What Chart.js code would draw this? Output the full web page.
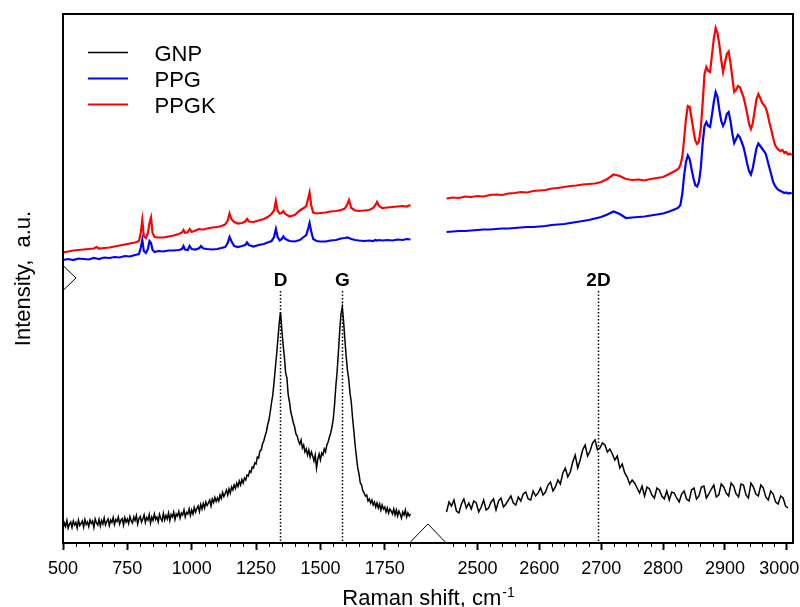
<!DOCTYPE html>
<html><head><meta charset="utf-8">
<script src="https://cdn.jsdelivr.net/npm/chart.js@4.4.1/dist/chart.umd.min.js"></script>
<style>html,body{margin:0;padding:0;background:#fff}#wrap{width:800px;height:607px;position:relative}</style>
</head><body><div id="wrap"><canvas id="c" width="800" height="607"></canvas></div>
<script>
// ---------- DATA ----------
const seriesNames = ['GNP', 'PPG', 'PPGK'];

const gnpLeftX = [500,505,510,515,520,525,530,535,540,545,550,555,560,565,570,575,580,585,590,595,
600,605,610,615,620,625,630,635,640,645,650,655,660,665,670,675,680,685,690,695,
700,705,710,715,720,725,730,735,740,745,750,755,760,765,770,775,780,785,790,795,
800,805,810,815,820,825,830,835,840,845,850,855,860,865,870,875,880,885,890,895,
900,905,910,915,920,925,930,935,940,945,950,955,960,965,970,975,980,985,990,995,
1000,1005,1010,1015,1020,1025,1030,1035,1040,1045,1050,1055,1060,1065,1070,1075,1080,1085,1090,1095,
1100,1105,1110,1115,1120,1125,1130,1135,1140,1145,1150,1155,1160,1165,1170,1175,1180,1185,1190,1195,
1200,1205,1210,1215,1220,1225,1230,1235,1240,1245,1250,1255,1260,1265,1270,1275,1280,1285,1290,1295,
1300,1305,1310,1315,1320,1325,1330,1335,1340,1345,1350,1355,1360,1365,1370,1375,1380,1385,1390,1395,
1400,1405,1410,1415,1420,1425,1430,1435,1440,1445,1450,1455,1460,1465,1470,1475,1480,1485,1490,1495,
1500,1505,1510,1515,1520,1525,1530,1535,1540,1545,1550,1555,1560,1565,1570,1575,1580,1585,1590,1595,
1600,1605,1610,1615,1620,1625,1630,1635,1640,1645,1650,1655,1660,1665,1670,1675,1680,1685,1690,1695,
1700,1705,1710,1715,1720,1725,1730,1735,1740,1745,1750,1755,1760,1765,1770,1775,1780,1785,1790,1795,
1800,1805,1810,1815,1820,1825,1830,1835,1840,1845,1850];
const gnpLeftY = [28,40,33,45,30,38,42,31,44,36, 41,30,46,35,39,44,32,47,37,42,
33,46,39,44,31,48,40,36,47,34, 45,38,50,36,43,48,35,46,41,51,
37,47,43,52,38,46,49,36,51,42, 48,39,53,44,40,52,45,55,38,49,
53,42,48,56,41,51,46,57,40,52, 45,58,47,52,42,57,49,44,59,46,
55,48,60,45,57,52,62,47,58,54, 63,50,60,56,66,52,61,58,68,55,
66,58,71,62,69,74,63,77,68,79, 70,82,75,80,86,74,88,81,91,83,
90,84,96,89,101,93,99,106,96,108, 100,112,106,116,109,120,113,124,116,127,
120,130,126,136,134,144,141,152,150,160, 158,172,170,184,186,198,204,214,222,236,
246,262,280,296,322,350,378,408,440,462, 428,398,372,340,330,296,282,262,252,240,
232,218,214,204,198,206,190,196,182,188, 176,186,172,182,174,164,176,150,168,178,
166,180,176,188,182,196,202,212,220,232, 248,276,314,342,382,424,458,472,444,408,
374,346,328,300,282,250,224,196,172,150, 138,120,116,104,100,94,96,84,88,80,
86,76,82,72,80,70,78,66,76,68, 72,62,70,60,68,64,58,68,56,66,
54,64,58,50,62,56,66,52,60,54, 58];

const gnpRightX = [2450,2454,2458,2462,2466,2470,2474,2478,2482,2486,2490,2494,2498,2502,2506,2510,2514,2518,2522,2526,
2530,2534,2538,2542,2546,2550,2554,2558,2562,2566,2570,2574,2578,2582,2586,2590,2594,2598,2602,2606,
2610,2614,2618,2622,2626,2630,2634,2638,2642,2646,2650,2654,2658,2662,2666,2670,2674,2678,2682,2686,
2690,2694,2698,2702,2706,2710,2714,2718,2722,2726,2730,2734,2738,2742,2746,2750,2754,2758,2762,2766,
2770,2774,2778,2782,2786,2790,2794,2798,2802,2806,2810,2814,2818,2822,2826,2830,2834,2838,2842,2846,
2850,2854,2858,2862,2866,2870,2874,2878,2882,2886,2890,2894,2898,2902,2906,2910,2914,2918,2922,2926,
2930,2934,2938,2942,2946,2950,2954,2958,2962,2966,2970,2974,2978,2982,2986,2990,2994,2998,3002];
const gnpRightY = [62,82,74,86,64,60,78,88,70,80, 68,84,80,62,72,86,66,70,82,88,
66,84,90,72,78,86,94,80,76,92, 84,98,102,88,86,104,94,100,110,96,
102,116,122,104,112,126,118,140,150,132, 142,162,176,150,166,186,196,174,184,200,
206,186,190,200,196,182,188,178,166,174, 150,158,140,132,118,126,120,110,100,114,
94,112,108,96,90,110,106,94,88,104, 86,102,100,90,82,98,104,88,84,106,
110,88,94,112,114,90,98,108,116,92, 96,118,112,100,94,120,114,98,92,118,
116,96,90,120,112,98,94,116,110,92, 86,104,98,82,78,94,90,74,70];

const polyLeftX = [500,520,540,560,580,600,620,630,640,660,
680,700,720,740,760,780,795,802,808,814,
822,830,836,842,848,856,870,890,910,930,
950,962,968,974,985,992,1000,1015,1030,1036,
1045,1060,1080,1100,1115,1130,1140,1147,1154,1165,
1180,1195,1208,1215,1222,1240,1260,1280,1295,1310,
1320,1327,1334,1342,1350,1356,1364,1380,1400,1420,
1435,1445,1452,1458,1464,1472,1485,1500,1520,1540,
1560,1580,1595,1605,1611,1620,1635,1650,1670,1690,
1705,1714,1720,1728,1740,1760,1780,1800,1820,1835,1850];
const ppgLeftY = [566,568,566,569,568,567,570,569,568,571,
570,572,571,574,573,576,578,590,606,584,
580,588,604,600,586,582,584,583,585,585,
586,588,594,587,586,594,588,587,590,594,
589,588,587,588,590,592,600,612,604,594,
592,594,596,601,596,593,596,598,601,604,
612,628,612,605,608,613,608,604,603,606,
612,616,628,640,624,608,604,603,603,605,
606,609,610,611,610,608,606,605,604,605,
604,606,605,606,605,606,605,607,606,608,607];
const ppgkLeftY = [581,583,585,586,587,588,589,592,589,590,
591,593,595,597,599,601,604,620,646,614,
610,620,640,651,620,612,611,611,613,615,
618,621,626,620,622,628,622,625,628,627,
627,629,631,632,634,637,645,659,648,642,
639,640,643,648,643,642,645,648,652,658,
665,684,664,659,660,664,658,653,656,665,
670,674,688,701,676,661,659,660,661,663,
664,666,669,678,686,670,665,664,665,666,
670,676,682,674,670,671,672,673,674,673,676];

const polyRightX = [2450,2460,2470,2480,2490,2500,2510,2520,2530,2540,2550,2560,2570,2580,2590,2600,2610,2620,2630,2640,
2650,2660,2670,2680,2690,2700,2710,2720,2730,2740,2750,2760,2770,2780,2790,2800,2810,
2822,2825,2828,2831,2834,2837,2840,2843,2846,2849,2852,2855,2858,2861,2864,2867,2870,2873,2876,2879,
2882,2885,2888,2891,2894,2897,2900,2903,2906,2909,2912,2915,2918,2921,2924,2927,2930,2933,2936,2939,
2942,2945,2948,2951,2954,2957,2960,2963,2966,2969,2972,2975,2978,2981,2984,2987,2990,2993,2996,2999,
3002,3005,3008];
const ppgRightY = [622,623,624,624,625,626,627,627,628,629,629,630,631,632,632,633,634,636,637,638,
640,642,644,646,649,652,657,663,658,650,651,652,653,655,657,659,663,
669,671,676,698,735,762,775,768,748,730,716,713,722,750,800,834,842,834,832,856,
882,902,892,866,844,834,842,858,862,844,818,800,808,816,812,802,792,776,758,744,
737,750,770,790,799,794,789,784,778,764,750,736,722,714,709,706,704,702,700,701,
699,700,699];
const ppgkRightY = [689,691,690,693,692,694,693,696,697,696,699,700,702,701,704,705,706,709,710,712,
714,715,717,718,719,722,728,737,734,728,726,727,725,728,730,732,738,
746,749,756,772,808,848,874,872,850,826,805,798,803,830,880,938,952,944,942,976,
1008,1030,1020,996,966,942,960,978,983,960,930,902,906,914,912,902,892,876,858,838,
828,840,864,888,898,890,880,876,870,858,840,826,810,796,790,786,784,786,780,782,
777,779,776];

const majorTicks = [500,750,1000,1250,1500,1750,2500,2600,2700,2800,2900,3000];
const minorTicks = [550,600,650,700,800,850,900,950,1050,1100,1150,1200,1300,1350,1400,1450,1550,1600,1650,1700,1800,1850,
2460,2480,2520,2540,2560,2580,2620,2640,2660,2680,2720,2740,2760,2780,2820,2840,2860,2880,2920,2940,2960,2980];

const peakPositions = [1343, 1583, 2695];
const peakLabels = ['D', 'G', '2D'];

// ---------- broken x axis: two segments mapped onto one linear scale ----------
const LEFT_END = 1850, RIGHT_START = 2448, RIGHT_END = 3010;
const LEFT_K = 0.2574, RIGHT_OFF = 382.3, RIGHT_K = 0.6187;
function toV(x) { return x <= LEFT_END ? (x - 500) * LEFT_K : RIGHT_OFF + (x - RIGHT_START) * RIGHT_K; }

function seriesData(lx, ly, rx, ry) {
  const d = lx.map((x, i) => ({x: toV(x), y: ly[i]}));
  d.push({x: (toV(LEFT_END) + toV(RIGHT_START)) / 2, y: null});
  return d.concat(rx.map((x, i) => ({x: toV(x), y: ry[i]})));
}

const allTicks = majorTicks.map(t => ({real: t, major: true}))
  .concat(minorTicks.map(t => ({real: t, major: false})))
  .sort((a, b) => a.real - b.real);
const lastMajor = majorTicks[majorTicks.length - 1];

const FONT = '"Liberation Sans", Arial, sans-serif';

const decor = {
  id: 'decor',
  afterDatasetsDraw(chart) {
    const {ctx, chartArea: a, scales: {x, y}} = chart;
    ctx.save();
    ctx.strokeStyle = '#000'; ctx.lineWidth = 2;
    ctx.strokeRect(a.left, a.top, a.right - a.left, a.bottom - a.top);
    ctx.lineWidth = 1;
    minorTicks.forEach(t => {
      const px = Math.round(x.getPixelForValue(toV(t))) + 0.5;
      ctx.beginPath(); ctx.moveTo(px, a.bottom); ctx.lineTo(px, a.bottom + 4); ctx.stroke();
    });
    const x1 = x.getPixelForValue(toV(LEFT_END)), x2 = x.getPixelForValue(toV(RIGHT_START));
    ctx.beginPath(); ctx.moveTo(x1, a.bottom - 1); ctx.lineTo((x1 + x2) / 2, a.bottom - 19); ctx.lineTo(x2, a.bottom - 1);
    ctx.fillStyle = '#fff'; ctx.fill(); ctx.stroke();
    const yb = y.getPixelForValue(530);
    ctx.beginPath(); ctx.moveTo(a.left + 1, yb - 11.5); ctx.lineTo(a.left + 13, yb); ctx.lineTo(a.left + 1, yb + 11.5);
    ctx.fill(); ctx.stroke();
    ctx.fillStyle = '#000';
    ctx.font = 'bold 19px ' + FONT; ctx.textAlign = 'center'; ctx.textBaseline = 'middle';
    peakPositions.forEach((p, i) => {
      const px = Math.round(x.getPixelForValue(toV(p))) + 0.5;
      ctx.fillText(peakLabels[i], px, y.getPixelForValue(524));
      ctx.setLineDash([1.5, 2]); ctx.lineWidth = 1.5;
      ctx.beginPath(); ctx.moveTo(px, y.getPixelForValue(504)); ctx.lineTo(px, a.bottom); ctx.stroke();
      ctx.setLineDash([]);
    });
    ctx.restore();
  },
  afterDraw(chart) {
    const {ctx, chartArea: a} = chart;
    ctx.save();
    ctx.fillStyle = '#000';
    ctx.font = '22px ' + FONT; ctx.textAlign = 'left'; ctx.textBaseline = 'alphabetic';
    chart.data.datasets.forEach((ds, i) => {
      const ly = Math.round(a.top + 38 + i * 25.8) + 0.5;
      ctx.strokeStyle = ds.borderColor; ctx.lineWidth = i === 0 ? 1.3 : 2;
      ctx.beginPath(); ctx.moveTo(a.left + 25, ly); ctx.lineTo(a.left + 65, ly); ctx.stroke();
      ctx.fillText(ds.label, a.left + 91.5, ly + 8);
    });
    const main = 'Raman shift, cm', sup = '-1';
    ctx.font = '22px ' + FONT; const w1 = ctx.measureText(main).width;
    ctx.font = '14px ' + FONT; const w2 = ctx.measureText(sup).width;
    const sx = (a.left + a.right) / 2 - (w1 + w2) / 2;
    ctx.font = '22px ' + FONT; ctx.fillText(main, sx, 605);
    ctx.font = '14px ' + FONT; ctx.fillText(sup, sx + w1 + 1, 597);
    ctx.translate(29.5, (a.top + a.bottom) / 2);
    ctx.rotate(-Math.PI / 2);
    ctx.font = '22px ' + FONT; ctx.textAlign = 'center';
    ctx.fillText('Intensity,  a.u.', 0, 0);
    ctx.restore();
  }
};

new Chart(document.getElementById('c'), {
  type: 'line',
  data: {
    datasets: [
      {label: seriesNames[0], data: seriesData(gnpLeftX, gnpLeftY, gnpRightX, gnpRightY), borderColor: '#000000', borderWidth: 1.5},
      {label: seriesNames[1], data: seriesData(polyLeftX, ppgLeftY, polyRightX, ppgRightY), borderColor: '#0000ff', borderWidth: 2.2},
      {label: seriesNames[2], data: seriesData(polyLeftX, ppgkLeftY, polyRightX, ppgkRightY), borderColor: '#ff0000', borderWidth: 2.2}
    ]
  },
  options: {
    responsive: false, animation: false, devicePixelRatio: 1,
    spanGaps: false,
    elements: {point: {radius: 0}, line: {tension: 0, fill: false}},
    layout: {padding: {left: 63, right: 7, top: 14, bottom: 0}},
    plugins: {legend: {display: false}, tooltip: {enabled: false}},
    scales: {
      x: {
        type: 'linear', min: 0, max: toV(RIGHT_END),
        afterBuildTicks: s => { s.ticks = allTicks.map(t => ({value: toV(t.real)})); },
        afterFit: s => { s.height = 64; s.paddingLeft = 0; s.paddingRight = 0; },
        border: {display: false},
        grid: {
          display: true, drawOnChartArea: false, drawTicks: true, tickLength: 7,
          tickWidth: c => (allTicks[c.index] && allTicks[c.index].major) ? 2 : 1,
          tickColor: c => (allTicks[c.index] && allTicks[c.index].major) ? '#000' : 'rgba(0,0,0,0)'
        },
        ticks: {
          autoSkip: false, maxRotation: 0, padding: 8, color: '#000',
          font: {family: FONT, size: 18},
          callback: (v, i) => {
            const t = allTicks[i];
            if (!t.major) return '';
            return t.real === lastMajor ? String(t.real) + '   ' : String(t.real);
          }
        }
      },
      y: {display: false, min: 0, max: 1058}
    }
  },
  plugins: [decor]
});
</script>
</body></html>
